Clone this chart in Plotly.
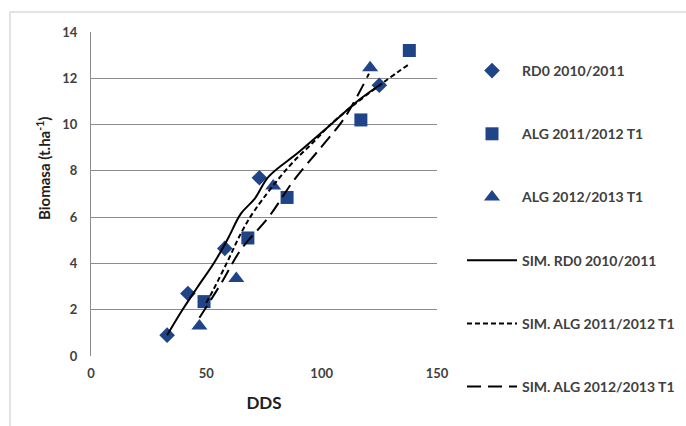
import plotly.graph_objects as go

# Observed biomass (t/ha) against days after sowing (DDS)
rd0_dds = [33, 42, 58, 73, 125]
rd0_bio = [0.9, 2.7, 4.65, 7.7, 11.7]

alg12_dds = [49, 68, 85, 117, 138]
alg12_bio = [2.35, 5.1, 6.85, 10.2, 13.2]

alg13_dds = [47, 63, 79, 121]
alg13_bio = [1.3, 3.35, 7.35, 12.45]

# Simulated curves
sim_rd0_dds = [33, 40, 46, 53.5, 59.5, 65, 71, 77, 90, 104.5, 116, 125]
sim_rd0_bio = [0.9, 2.05, 2.95, 4.05, 5.1, 6.15, 6.8, 7.75, 8.8, 10.05, 11.05, 11.7]

sim_alg12_dds = [50, 53, 59.5, 65, 71, 85.5, 97, 106, 126.5, 138.5]
sim_alg12_bio = [2.3, 2.85, 4.15, 5.3, 6.3, 8.15, 9.3, 10.2, 11.8, 12.65]

sim_alg13_dds = [47, 56.5, 65, 77, 88, 100, 110, 120.5]
sim_alg13_bio = [1.65, 3.15, 4.6, 6.0, 7.6, 9.05, 10.3, 12.2]

x_ticks = [0, 50, 100, 150]
y_ticks = [0, 2, 4, 6, 8, 10, 12, 14]

blue = "#1F4488"
txt = "#404040"
font_family = "Lato, 'Open Sans', sans-serif"

fig = go.Figure()

fig.add_trace(go.Scatter(x=rd0_dds, y=rd0_bio, mode="markers", name="RD0 2010/2011",
                         legendgroup="a",
                         marker=dict(symbol="diamond", size=12, color=blue)))
fig.add_trace(go.Scatter(x=alg12_dds, y=alg12_bio, mode="markers", name="ALG 2011/2012 T1",
                         legendgroup="b",
                         marker=dict(symbol="square", size=13, color=blue)))
fig.add_trace(go.Scatter(x=alg13_dds, y=alg13_bio, mode="markers", name="ALG 2012/2013 T1",
                         legendgroup="c",
                         marker=dict(symbol="triangle-up", size=14, color=blue)))
fig.add_trace(go.Scatter(x=sim_rd0_dds, y=sim_rd0_bio, mode="lines", name="SIM. RD0 2010/2011",
                         legendgroup="d",
                         line=dict(color="black", width=2, shape="spline")))
fig.add_trace(go.Scatter(x=sim_alg12_dds, y=sim_alg12_bio, mode="lines", name="SIM. ALG 2011/2012 T1",
                         legendgroup="e",
                         line=dict(color="black", width=2, dash="5px,3px", shape="spline")))
fig.add_trace(go.Scatter(x=sim_alg13_dds, y=sim_alg13_bio, mode="lines", name="SIM. ALG 2012/2013 T1",
                         legendgroup="f",
                         line=dict(color="black", width=2, dash="14px,7px", shape="spline")))

L, R, T, B = 91, 249, 32, 70
W, H = 686, 426
pw = W - L - R
ph = H - T - B


def px_x(p):
    return (p - L) / pw


def px_y(p):
    return (H - B - p) / ph


fig.update_layout(
    width=W, height=H,
    margin=dict(l=L, r=R, t=T, b=B, autoexpand=False),
    paper_bgcolor="white", plot_bgcolor="white",
    font=dict(family=font_family, color=txt, size=13),
    showlegend=True,
    legend=dict(
        x=px_x(462), y=px_y(55), xanchor="left", yanchor="top",
        font=dict(family=font_family, size=14, color=txt, weight="bold"),
        tracegroupgap=42, bgcolor="rgba(0,0,0,0)", maxheight=420,
        itemwidth=50,
    ),
    xaxis=dict(
        range=[0, 150], tickvals=x_ticks, showgrid=False, zeroline=False,
        showline=False, ticks="", ticklabelstandoff=8,
        tickfont=dict(family=font_family, size=13, color=txt, weight="bold"),
        title=dict(text="DDS", standoff=17,
                   font=dict(family=font_family, size=17, color="#202020", weight="bold")),
    ),
    yaxis=dict(
        range=[0, 14], tickvals=y_ticks, showgrid=True, gridcolor="#8c8c8c", gridwidth=1,
        zeroline=False, showline=True, linecolor="#8c8c8c", linewidth=1, ticks="",
        ticklabelstandoff=10,
        tickfont=dict(family=font_family, size=13, color=txt, weight="bold"),
    ),
    annotations=[dict(
        text="Biomasa (t.ha<sup>-1</sup>)", textangle=-90,
        xref="paper", yref="paper", x=px_x(43), y=px_y(169),
        xanchor="center", yanchor="middle", showarrow=False,
        font=dict(family=font_family, size=15, color="#202020", weight="bold"),
    )],
    shapes=[dict(
        type="rect", xref="paper", yref="paper", layer="below",
        x0=px_x(10), x1=px_x(W + 5),
        y0=px_y(H + 5), y1=px_y(12),
        line=dict(color="#c8c8c8", width=1),
    )],
)

fig.write_html("out.html")
